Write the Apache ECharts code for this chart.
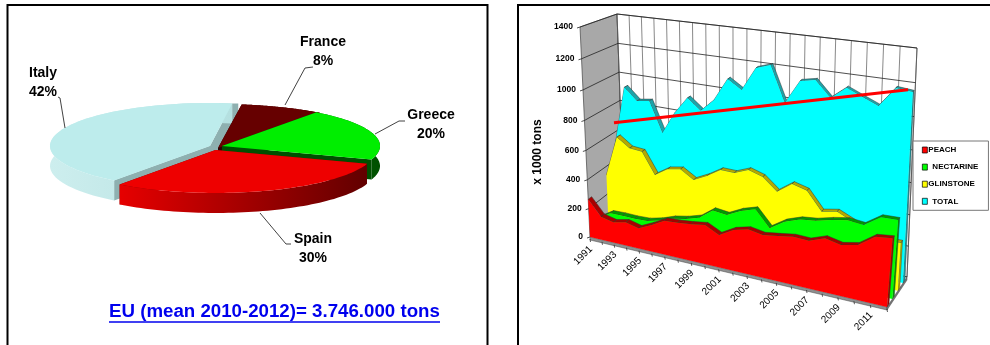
<!DOCTYPE html>
<html>
<head>
<meta charset="utf-8">
<style>html,body{margin:0;padding:0;background:#fff}#chart{width:990px;height:345px}</style>
<script src="https://cdn.jsdelivr.net/npm/echarts@6/dist/echarts.min.js"></script>
</head>
<body>
<div id="chart"></div>
<script>
// EU production share by country
const countries = ['France', 'Greece', 'Spain', 'Italy'];
const shares = [8, 20, 30, 42];
const titleText = 'EU (mean 2010-2012)= 3.746.000 tons';

// Yearly output, x 1000 tons
const years = ['1991','1992','1993','1994','1995','1996','1997','1998','1999','2000','2001',
               '2002','2003','2004','2005','2006','2007','2008','2009','2010','2011','2012'];
const peach = [266,163,143,162,140,182,230,235,244,258,213,265,289,273,286,301,297,332,311,331,401,412];
const nectarine = [80,134,137,135,139,161,194,212,240,308,297,343,372,270,332,366,377,402,420,410,477,480];
const glinstone = [339,624,562,554,410,467,484,429,474,531,529,566,538,461,529,505,391,410,368,305,295,299];
const total = [489,933,851,865,659,812,927,856,941,1090,1032,1184,1214,990,1140,1159,1062,1137,1096,1056,1175,1165];
const trendYears = ['1992','2012'];
const trend = [780,985];
const valueTicks = [0,200,400,600,800,1000,1200,1400];
const yearLabels = ['1991','1993','1995','1997','1999','2001','2003','2005','2007','2009','2011'];
const VALUE_MAX = 1400;

// Box corners of the oblique plot, and the two perspective warps
const BOX = {
  fbl:[590,237], fbr:[887,307], ftl:[580,27], ftr:[907,62],
  bbl:[624,208], bbr:[907,277], btl:[617,14], btr:[917,48]
};
const WARP_X = 1.19, WARP_Y = 1.07;
const PLANE = {w:100, h:100};
const SLAB_DEPTH = 0.10;

const mix = (a,b,k) => [a[0]+(b[0]-a[0])*k, a[1]+(b[1]-a[1])*k];
const warp = (s,q) => s/(q-(q-1)*s);
function project(u,t,w){
  const f = warp(u,WARP_X), g = warp(t,WARP_Y);
  const bottom = mix(mix(BOX.fbl,BOX.fbr,f), mix(BOX.bbl,BOX.bbr,f), w);
  const top = mix(mix(BOX.ftl,BOX.ftr,f), mix(BOX.btl,BOX.btr,f), w);
  return mix(bottom,top,g);
}
// Runs a (category, value) pair through the chart's axes, then into the box
function place(api,i,v,w){
  const c = api.coord([i,v]);
  return project(c[0]/PLANE.w, 1-c[1]/PLANE.h, w);
}
const poly = (points,fill,stroke,lw) => ({type:'polygon',silent:true,shape:{points},
  style:{fill,stroke:stroke||null,lineWidth:lw||0}});
const line = (points,stroke,lw) => ({type:'polyline',silent:true,shape:{points},
  style:{fill:null,stroke,lineWidth:lw}});
const label = (x,y,text,font,align,rotation) => ({type:'text',silent:true,x,y,rotation:rotation||0,
  style:{x:0,y:0,text,font,fill:'#000',align,verticalAlign:'middle'}});

function renderFrame(params,api){
  if(params.dataIndex!==0) return;
  const kids = [];
  const at = (i,v,w) => place(api,i,v,w);
  const last = years.length-1;
  // side wall and back wall
  kids.push(poly([BOX.ftl,BOX.btl,BOX.bbl,BOX.fbl],'#a8a8a8','#444',0.7));
  kids.push(poly([BOX.btl,BOX.btr,BOX.bbr,BOX.bbl],'#fff','#333',0.7));
  years.forEach((y,i)=>kids.push(line([at(i,0,1),at(i,VALUE_MAX,1)],'#555',0.7)));
  valueTicks.forEach(v=>{
    const a = at(0,v,0);
    kids.push(line([[a[0]-3,a[1]+1],a,at(0,v,1),at(last,v,1)],'#222',0.8));
    kids.push(label(a[0]-7,a[1],String(v),'bold 8.5px "Liberation Sans"','right'));
  });
  // floor slab and its ticks
  const fl=at(0,0,0), fr=at(last,0,0), br=at(last,0,1);
  kids.push(poly([fl,fr,[fr[0],fr[1]+3],[fl[0],fl[1]+3]],'#8f8f8f','#444',0.5));
  kids.push(poly([fr,br,[br[0],br[1]+3],[fr[0],fr[1]+3]],'#777','#444',0.5));
  years.forEach((y,i)=>{
    const p = at(i,0,0);
    kids.push(line([[p[0],p[1]+2],[p[0]+0.5,p[1]+5]],'#333',0.8));
  });
  yearLabels.forEach(y=>{
    const p = at(years.indexOf(y),0,0);
    kids.push(label(p[0]+1,p[1]+10.5,y,'10px "Liberation Sans"','right',Math.PI/4));
  });
  kids.push({type:'text',silent:true,x:538,y:152,rotation:Math.PI/2,
    style:{x:0,y:0,text:'x 1000 tons',font:'bold 12px "Liberation Sans"',fill:'#000',align:'center',verticalAlign:'middle'}});
  return {type:'group',children:kids};
}

// One slab of the area chart: end face, ridge along the top, then the front face
function slabRenderer(values,w0,w1,fill,ridge,side){
  return function(params,api){
    if(params.dataIndex!==0) return;
    const last = values.length-1, kids = [];
    kids.push(poly([place(api,last,0,w0),place(api,last,values[last],w0),
                    place(api,last,values[last],w1),place(api,last,0,w1)],side,'#333',0.4));
    for(let i=0;i<last;i++){
      kids.push(poly([place(api,i,values[i],w0),place(api,i+1,values[i+1],w0),
                      place(api,i+1,values[i+1],w1),place(api,i,values[i],w1)],ridge,'#333',0.5));
    }
    const front = values.map((v,i)=>place(api,i,v,w0));
    front.push(place(api,last,0,w0),place(api,0,0,w0));
    kids.push(poly(front,fill));
    return {type:'group',children:kids};
  };
}

// Exploded 3D pie: each slice has its own centre and radii on the tilted plane.
// "lip" is the sideways reach of the leading cut face past the slice's top.
const PIE_START = 82, PIE_DEPTH = 20;
const SLICE = {
  Italy:  {c:[210,146],r:[160,43],lip:6,top:'#bdecec',cut:'#8eb0b0',side:['#cdeeee','#b4e0e0']},
  France: {c:[218,148],r:[170,44],lip:0,top:'#660000',cut:'#2a0000',side:['#440000','#440000']},
  Greece: {c:[222,146],r:[158,42],lip:0,top:'#00ee00',cut:'#004f00',side:['#006400','#005000']},
  Spain:  {c:[215.5,150],r:[160,43],lip:0,top:'#ee0000',cut:'#7a0000',side:['#e60000','#620000']}
};
const LEADERS = {
  Italy:  {path:[[65,128],[60,98],[58,97]],at:[43,73]},
  France: {path:[[285,105],[305,68],[313,67]],at:[323,42]},
  Greece: {path:[[375,134],[399,121],[405,121]],at:[431,115]},
  Spain:  {path:[[260,213],[286,244],[291,244]],at:[313,239]}
};
const sliceAngles = {};
let pieAngle = PIE_START;
countries.forEach((n,i)=>{
  const sweep = shares[i]*3.6;
  sliceAngles[n] = [pieAngle,pieAngle-sweep];
  pieAngle -= sweep;
});
const DRAW_ORDER = ['Italy','France','Greece','Spain'];

function renderPie(params,api){
  const name = DRAW_ORDER[params.dataIndex];
  const s = SLICE[name], [a0,a1] = sliceAngles[name];
  const rim = [];
  for(let i=0;i<=60;i++){
    const t = (a0+(a1-a0)*i/60)*Math.PI/180;
    rim.push([s.c[0]+s.r[0]*Math.cos(t), s.c[1]-s.r[1]*Math.sin(t)]);
  }
  const down = p => [p[0],p[1]+PIE_DEPTH];
  const xs = rim.map(p=>p[0]), minX=Math.min(...xs), maxX=Math.max(...xs);
  const gradient = {type:'linear',x:minX,y:0,x2:maxX,y2:0,global:true,
    colorStops:[{offset:0,color:s.side[0]},{offset:1,color:s.side[1]}]};
  const first=rim[0], end=rim[rim.length-1];
  const kids = [
    poly([s.c,first,down(first),down(s.c)],s.cut),
    poly([s.c,end,down(end),down(s.c)],s.cut),
    poly(rim.concat(rim.slice().reverse().map(down)),gradient),
    poly([s.c].concat(rim),s.top)
  ];
  if(s.lip){
    kids.unshift(poly([s.c,first,[first[0]+s.lip,first[1]+1],[first[0]+s.lip,first[1]+PIE_DEPTH],down(s.c)],s.cut));
    kids.push(poly([end,down(end),[end[0]+s.lip,end[1]+PIE_DEPTH+1],[end[0]+s.lip,end[1]]],s.cut));
  }
  const note = LEADERS[name];
  kids.push(line(note.path,'#111',0.8));
  const share = shares[countries.indexOf(name)];
  kids.push(label(note.at[0],note.at[1],name,'bold 14px "Liberation Sans"','center'));
  kids.push(label(note.at[0],note.at[1]+19.5,share+'%','bold 14px "Liberation Sans"','center'));
  return {type:'group',children:kids};
}

const asPairs = arr => arr.map((v,i)=>[i,v]);
const slab = (name,values,w,fill,ridge,side) => ({
  name,type:'custom',coordinateSystem:'cartesian2d',xAxisIndex:0,yAxisIndex:0,silent:true,
  itemStyle:{color:fill},data:asPairs(values),renderItem:slabRenderer(values,w,w+SLAB_DEPTH,fill,ridge,side)
});

const chart = echarts.init(document.getElementById('chart'),null,{renderer:'canvas'});
chart.setOption({
  animation:false,
  backgroundColor:'#fff',
  title:{text:titleText,left:109,top:302,padding:0,
    textStyle:{color:'#0000ee',fontSize:18.7,fontWeight:'bold',fontFamily:'"Liberation Sans"'}},
  grid:[
    {left:0,top:0,width:PLANE.w,height:PLANE.h,show:false},
    {left:614,top:23,width:294,height:225,show:false}
  ],
  xAxis:[
    {gridIndex:0,type:'category',data:years,boundaryGap:false,show:false},
    {gridIndex:1,type:'category',data:trendYears,boundaryGap:false,show:false}
  ],
  yAxis:[
    {gridIndex:0,type:'value',min:0,max:VALUE_MAX,interval:200,show:false},
    {gridIndex:1,type:'value',min:0,max:VALUE_MAX,interval:200,show:false}
  ],
  legend:{
    left:913,top:141,orient:'vertical',icon:'rect',itemWidth:5,itemHeight:6,itemGap:9.1,
    padding:[5,10,5,9],borderColor:'#777',borderWidth:1,backgroundColor:'#fff',selectedMode:false,
    textStyle:{fontSize:8,fontWeight:'bold',color:'#000',fontFamily:'"Liberation Sans"'},
    itemStyle:{borderColor:'#000',borderWidth:0.7},
    data:[
      {name:'PEACH',textStyle:{padding:[0,0,0,-4]}},
      {name:'NECTARINE'},
      {name:'GLINSTONE',textStyle:{padding:[0,0,0,-4]}},
      {name:'TOTAL'}
    ]
  },
  series:[
    {name:'frame',type:'custom',coordinateSystem:'cartesian2d',xAxisIndex:0,yAxisIndex:0,silent:true,
      data:asPairs(valueTicks),renderItem:renderFrame},
    slab('TOTAL',total,0.80,'#00ffff','#1ea3a8','#1a9aa0'),
    slab('GLINSTONE',glinstone,0.54,'#ffff00','#b5a800','#b5a800'),
    slab('NECTARINE',nectarine,0.27,'#00ff00','#009a00','#009a00'),
    slab('PEACH',peach,0.0,'#ff0000','#a80000','#a00000'),
    {name:'trend',type:'line',xAxisIndex:1,yAxisIndex:1,data:trend,symbol:'none',silent:true,z:5,
      lineStyle:{color:'#ff0000',width:3}},
    {name:'share',type:'custom',coordinateSystem:'none',silent:true,
      data:DRAW_ORDER.map(n=>({name:n,value:shares[countries.indexOf(n)]})),renderItem:renderPie}
  ],
  graphic:[
    {type:'rect',silent:true,shape:{x:7.5,y:5,width:480,height:400},style:{fill:null,stroke:'#000',lineWidth:2}},
    {type:'rect',silent:true,shape:{x:518,y:5,width:600,height:400},style:{fill:null,stroke:'#000',lineWidth:2}},
    {type:'line',silent:true,shape:{x1:109,y1:322,x2:440,y2:322},style:{stroke:'#0000ee',lineWidth:1.5}}
  ]
});
</script>
</body>
</html>
